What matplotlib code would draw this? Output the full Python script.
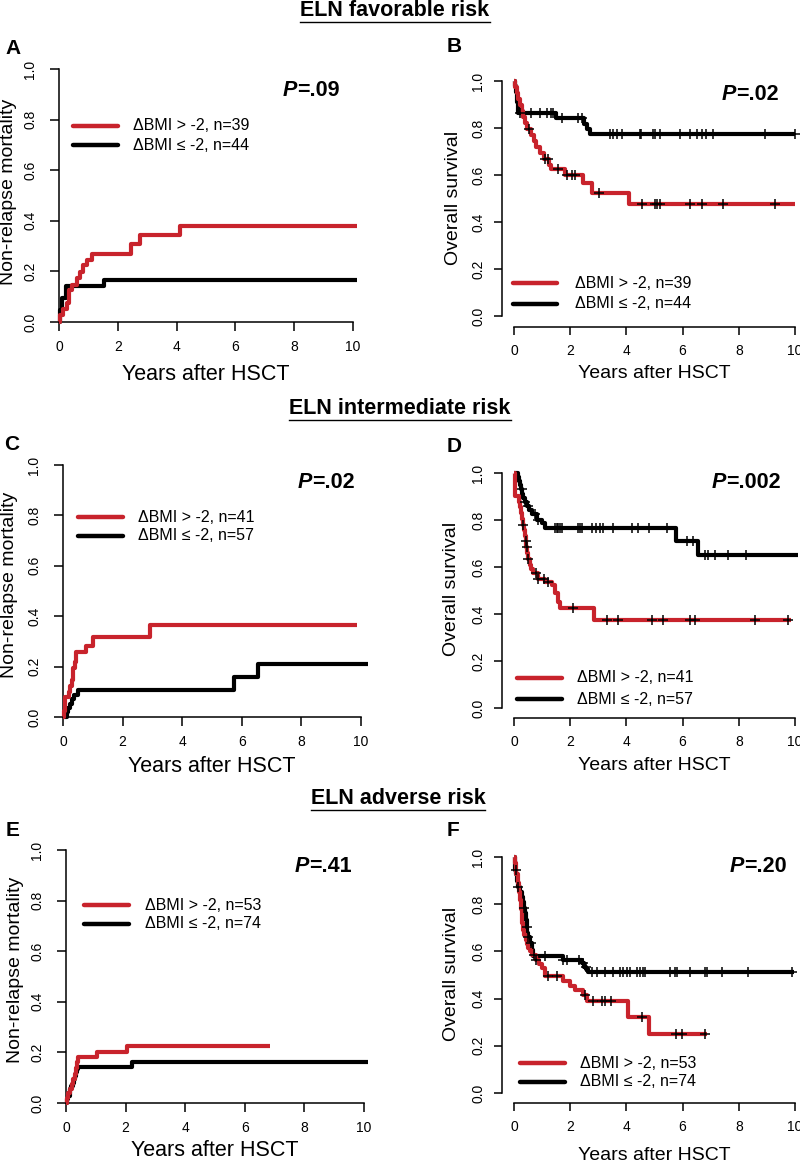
import numpy as np
import matplotlib
matplotlib.use("Agg")
import matplotlib.pyplot as plt

plt.rcParams['font.family'] = ['Liberation Sans', 'DejaVu Sans']

W, H = 800, 1163
RED = '#C8232C'

# ---------------- DATA ----------------
titles = ["ELN favorable risk", "ELN intermediate risk", "ELN adverse risk"]
panel_letters = ["A", "B", "C", "D", "E", "F"]
p_values = ["=.09", "=.02", "=.02", "=.002", "=.41", "=.20"]
legend_red = ["\u0394BMI > -2, n=39", "\u0394BMI > -2, n=41", "\u0394BMI > -2, n=53"]
legend_black = ["\u0394BMI \u2264 -2, n=44", "\u0394BMI \u2264 -2, n=57", "\u0394BMI \u2264 -2, n=74"]
x_ticks = [0, 2, 4, 6, 8, 10]
y_ticks = [0.0, 0.2, 0.4, 0.6, 0.8, 1.0]
y_tick_labels = ["0.0", "0.2", "0.4", "0.6", "0.8", "1.0"]

# Panel A: NRM favorable
A_red_t = [0, 0.03, 0.15, 0.26, 0.33, 0.45, 0.6, 0.7, 0.82, 0.95, 1.13, 2.45, 2.76, 4.12, 10.12]
A_red_v = [0, 0.026, 0.051, 0.077, 0.128, 0.146, 0.173, 0.199, 0.225, 0.245, 0.27, 0.307, 0.343, 0.38, 0.38]
A_blk_t = [0, 0.03, 0.09, 0.24, 1.53, 10.12]
A_blk_v = [0, 0.047, 0.093, 0.142, 0.167, 0.167]

# Panel B: OS favorable
B_red_t = [0, 0.05, 0.1, 0.15, 0.2, 0.27, 0.33, 0.4, 0.45, 0.62, 0.7, 0.8, 0.92, 1.05, 1.25, 1.32, 1.83, 2.45, 2.78, 4.1, 10.0]
B_red_v = [1.0, 0.974, 0.949, 0.923, 0.897, 0.872, 0.846, 0.821, 0.795, 0.769, 0.744, 0.718, 0.692, 0.667, 0.641, 0.625, 0.60, 0.565, 0.522, 0.478, 0.478]
B_red_cens = [0.55, 1.1, 1.22, 1.58, 1.87, 2.05, 2.17, 3.04, 4.57, 5.0, 5.1, 5.2, 6.26, 6.68, 7.43, 9.3]
B_blk_t = [0, 0.03, 0.06, 0.09, 0.12, 0.16, 1.5, 2.5, 2.6, 2.7, 10.0]
B_blk_v = [1.0, 0.977, 0.955, 0.932, 0.909, 0.864, 0.841, 0.818, 0.795, 0.773, 0.773]
B_blk_cens = [0.21, 0.59, 0.93, 1.16, 1.30, 1.40, 1.70, 2.29, 2.41, 3.41, 3.53, 3.65, 3.83, 4.48, 4.52,
              4.96, 5.0, 5.20, 5.91, 6.26, 6.50, 6.68, 6.85, 7.09, 8.93, 9.99]

# Panel C: NRM intermediate
C_red_t = [0, 0.03, 0.07, 0.2, 0.25, 0.3, 0.35, 0.4, 0.45, 0.76, 1.02, 2.92, 9.85]
C_red_v = [0, 0.024, 0.078, 0.1, 0.122, 0.146, 0.195, 0.22, 0.256, 0.283, 0.317, 0.366, 0.366]
C_blk_t = [0, 0.12, 0.18, 0.23, 0.3, 0.38, 0.51, 5.75, 6.55, 10.25]
C_blk_v = [0, 0.018, 0.035, 0.053, 0.07, 0.088, 0.107, 0.157, 0.21, 0.21]

# Panel D: OS intermediate
D_red_t = [0, 0.02, 0.03, 0.04, 0.05, 0.18, 0.22, 0.25, 0.28, 0.31, 0.35, 0.38, 0.41, 0.44, 0.47, 0.5,
           0.56, 0.62, 0.69, 0.87, 1.1, 1.34, 1.46, 1.58, 1.64, 2.86, 9.85]
D_red_v = [1.0, 0.976, 0.951, 0.927, 0.902, 0.878, 0.854, 0.829, 0.805, 0.78, 0.756, 0.73, 0.71, 0.685,
           0.66, 0.635, 0.61, 0.59, 0.573, 0.55, 0.537, 0.523, 0.488, 0.453, 0.424, 0.376, 0.376]
D_red_cens = [0.33, 0.41, 0.45, 0.51, 0.77, 0.87, 1.08, 1.20, 2.11, 3.3, 3.71, 4.9, 5.31, 6.26, 6.44, 8.58, 9.76]
D_blk_t = [0, 0.13, 0.17, 0.21, 0.25, 0.29, 0.33, 0.39, 0.45, 0.54, 0.63, 0.81, 0.99, 1.1, 5.75, 6.56, 10.1]
D_blk_v = [1.0, 0.982, 0.965, 0.947, 0.93, 0.912, 0.895, 0.877, 0.86, 0.842, 0.825, 0.80, 0.786, 0.767,
           0.71, 0.652, 0.652]
D_blk_cens = [0.27, 0.4, 0.5, 0.75, 0.87, 1.46, 1.52, 1.58, 1.64, 1.70, 2.29, 2.35, 2.41, 2.79, 2.91, 3.06,
              3.18, 3.53, 4.19, 4.42, 4.80, 5.43, 6.14, 6.38, 6.80, 6.91, 7.15, 7.6, 8.24]

# Panel E: NRM adverse
E_red_t = [0, 0.03, 0.08, 0.15, 0.2, 0.25, 0.3, 0.33, 0.36, 0.41, 1.05, 2.04, 6.85]
E_red_v = [0, 0.019, 0.038, 0.057, 0.077, 0.096, 0.115, 0.14, 0.163, 0.18, 0.203, 0.225, 0.225]
E_blk_t = [0, 0.05, 0.08, 0.12, 0.15, 0.18, 0.22, 0.26, 0.3, 0.33, 0.36, 0.41, 2.23, 10.15]
E_blk_v = [0, 0.014, 0.027, 0.041, 0.054, 0.068, 0.081, 0.095, 0.108, 0.122, 0.135, 0.144, 0.161, 0.161]

# Panel F: OS adverse
F_red_t = [0, 0.04, 0.08, 0.13, 0.17, 0.21, 0.24, 0.27, 0.3, 0.33, 0.37, 0.42, 0.46, 0.51, 0.57, 0.63,
           0.77, 0.9, 0.98, 1.1, 1.76, 1.99, 2.17, 2.47, 2.59, 4.05, 4.80, 6.86]
F_red_v = [1.0, 0.973, 0.93, 0.888, 0.85, 0.818, 0.78, 0.747, 0.72, 0.69, 0.67, 0.648, 0.63, 0.613, 0.6,
           0.585, 0.564, 0.545, 0.528, 0.495, 0.476, 0.454, 0.437, 0.416, 0.391, 0.32, 0.25, 0.25]
F_red_cens = [0.72, 0.8, 1.22, 1.52, 2.53, 2.82, 3.12, 3.24, 3.45, 4.54, 5.75, 5.97, 6.80]
F_blk_t = [0, 0.04, 0.08, 0.12, 0.15, 0.2, 0.27, 0.31, 0.35, 0.39, 0.42, 0.45, 0.48, 0.51, 0.57, 0.63,
           0.69, 1.76, 2.41, 2.5, 2.58, 2.65, 9.95]
F_blk_v = [1.0, 0.945, 0.93, 0.9, 0.874, 0.85, 0.832, 0.81, 0.785, 0.761, 0.735, 0.705, 0.68, 0.662,
           0.634, 0.606, 0.58, 0.565, 0.55, 0.535, 0.525, 0.514, 0.514]
F_blk_cens = [0.06, 0.15, 0.35, 0.45, 0.51, 0.6, 1.1, 1.76, 1.9, 2.3, 2.45, 2.55, 2.76, 2.94, 3.24, 3.54,
              3.77, 3.89, 4.01, 4.13, 4.37, 4.48, 4.60, 4.66, 5.55, 5.73, 5.79, 6.26, 6.80, 6.86, 7.39,
              8.34, 9.88]

y_labels = ["Non-relapse mortality", "Overall survival"]
x_label = "Years after HSCT"

# ---------------- LAYOUT (pixels) ----------------
# x0px, x10px, y0px, y1px, yaxis_px, xaxis_px
geom = {
    "A": (59, 353, 322, 69, 59, 322),
    "B": (514, 795, 316, 81, 502, 327),
    "C": (63, 361, 717, 465, 63, 717),
    "D": (514, 795, 708, 473, 502, 718),
    "E": (66, 364, 1103, 850, 66, 1103),
    "F": (514, 795, 1093, 857, 502, 1103),
}

fig = plt.figure(figsize=(W / 100, H / 100), dpi=100)
fig.patch.set_facecolor('white')


def step_at(t_arr, v_arr, t):
    t_arr = np.asarray(t_arr); v_arr = np.asarray(v_arr)
    idx = np.searchsorted(t_arr, t, side='right') - 1
    return v_arr[np.clip(idx, 0, len(v_arr) - 1)]


def make_ax(key, left):
    x0, x10, y0, y1, yax, xax = geom[key]
    sx = (x10 - x0) / 10.0
    sy = (y0 - y1) / 1.0
    xmin, xmax = -0.6, 10.5
    ymin, ymax = -0.1, 1.05
    lp = x0 + xmin * sx
    rp = x0 + xmax * sx
    tp = y0 - ymax * sy
    bp = y0 - ymin * sy
    ax = fig.add_axes([lp / W, 1 - bp / H, (rp - lp) / W, (bp - tp) / H])
    ax.set_xlim(xmin, xmax)
    ax.set_ylim(ymin, ymax)
    ax.patch.set_visible(False)
    for s in ['top', 'right']:
        ax.spines[s].set_visible(False)
    ax.spines['left'].set_position(('data', (yax - x0) / sx))
    ax.spines['bottom'].set_position(('data', (y0 - xax) / sy))
    ax.spines['left'].set_bounds(0, 1)
    ax.spines['bottom'].set_bounds(0, 10)
    for s in ['left', 'bottom']:
        ax.spines[s].set_linewidth(1.1)
    ax.set_xticks(x_ticks)
    ax.set_yticks(y_ticks)
    ax.set_yticklabels(y_tick_labels)
    tl = 6.5 if left else 5.5
    ax.tick_params(axis='both', length=tl, width=1.1, labelsize=10, colors='black')
    ax.tick_params(axis='x', pad=6.5)
    ax.tick_params(axis='y', pad=(9 if left else 6.5), labelrotation=90)
    for lab in ax.get_yticklabels():
        lab.set_va('center')
        lab.set_ha('right')
    return ax


def draw(ax, rt, rv, bt, bv, rc=None, bc=None):
    ax.step(bt, bv, where='post', color='black', lw=3.0, solid_capstyle='butt', zorder=2)
    ax.step(rt, rv, where='post', color=RED, lw=3.0, solid_capstyle='butt', zorder=3)
    if bc is not None:
        ax.plot(bc, step_at(bt, bv, bc), ls='none', marker='+', color='black', ms=6.5, mew=1.1, zorder=4)
    if rc is not None:
        ax.plot(rc, step_at(rt, rv, rc), ls='none', marker='+', color='black', ms=6.5, mew=1.1, zorder=4)


axA = make_ax("A", True); draw(axA, A_red_t, A_red_v, A_blk_t, A_blk_v)
axB = make_ax("B", False); draw(axB, B_red_t, B_red_v, B_blk_t, B_blk_v, B_red_cens, B_blk_cens)
axC = make_ax("C", True); draw(axC, C_red_t, C_red_v, C_blk_t, C_blk_v)
axD = make_ax("D", False); draw(axD, D_red_t, D_red_v, D_blk_t, D_blk_v, D_red_cens, D_blk_cens)
axE = make_ax("E", True); draw(axE, E_red_t, E_red_v, E_blk_t, E_blk_v)
axF = make_ax("F", False); draw(axF, F_red_t, F_red_v, F_blk_t, F_blk_v, F_red_cens, F_blk_cens)

# ---------------- overlay for annotations ----------------
ov = fig.add_axes([0, 0, 1, 1], zorder=10)
ov.set_xlim(0, W); ov.set_ylim(H, 0); ov.axis('off'); ov.patch.set_visible(False)

title_pos = [(395, 10), (400, 408), (398, 798)]
title_objs = []
for t, (x, y) in zip(titles, title_pos):
    title_objs.append(ov.text(x, y, t, ha='center', va='center', fontsize=15.5, fontweight='bold'))

letter_pos = [(13, 49), (454, 47), (12, 445), (454, 447), (13, 830), (453, 830)]
for L, (x, y) in zip(panel_letters, letter_pos):
    ov.text(x, y, L, ha='center', va='center', fontsize=15, fontweight='bold')

p_split = [(297, 90), (736, 95), (312, 483), (726, 483), (309, 867), (744, 867)]
for pv, (x, y) in zip(p_values, p_split):
    ov.text(x, y, "P", ha='right', va='center', fontsize=15.5, fontweight='bold', fontstyle='italic')
    ov.text(x, y, pv, ha='left', va='center', fontsize=15.5, fontweight='bold')

# legends: (line x start, line x end, y red, y black, text x)
leg_geom = [(73, 118, 126, 145, 133), (513, 557, 283, 304, 575),
            (78, 123, 517, 536, 138), (517, 562, 678, 699, 577),
            (84, 129, 905, 924, 145), (520, 565, 1063, 1082, 580)]
for i, (xa, xb, yr, yb, xt) in enumerate(leg_geom):
    k = i // 2
    ov.plot([xa, xb], [yr, yr], color=RED, lw=3.2, solid_capstyle='round')
    ov.plot([xa, xb], [yb, yb], color='black', lw=3.2, solid_capstyle='round')
    ov.text(xt, yr, legend_red[k], ha='left', va='center', fontsize=11.5)
    ov.text(xt, yb, legend_black[k], ha='left', va='center', fontsize=11.5)

# axis labels
ylab_pos = [(9, 192, 0, 14), (454, 198, 1, 14), (10, 585, 0, 14), (452, 589, 1, 14),
            (16, 970, 0, 14), (452, 974, 1, 14)]
for x, y, k, fs in ylab_pos:
    ov.text(x, y, y_labels[k], rotation=90, ha='center', va='center', fontsize=fs)
xlab_pos = [(206, 375, 15.5), (654, 373, 14), (212, 766, 15.5), (654, 766, 14),
            (215, 1151, 15.5), (654, 1155, 14)]
for x, y, fs in xlab_pos:
    ov.text(x, y, x_label, ha='center', va='center', fontsize=fs)

# underline titles
fig.canvas.draw()
r = fig.canvas.get_renderer()
inv = ov.transData.inverted()
for t in title_objs:
    bb = t.get_window_extent(renderer=r)
    (xa, ya), (xb, yb) = inv.transform([[bb.x0, bb.y0], [bb.x1, bb.y1]])
    yl = max(ya, yb) + 1.5
    ov.plot([xa, xb], [yl, yl], color='black', lw=1.0)

fig.savefig("out.png", dpi=100, facecolor='white')
